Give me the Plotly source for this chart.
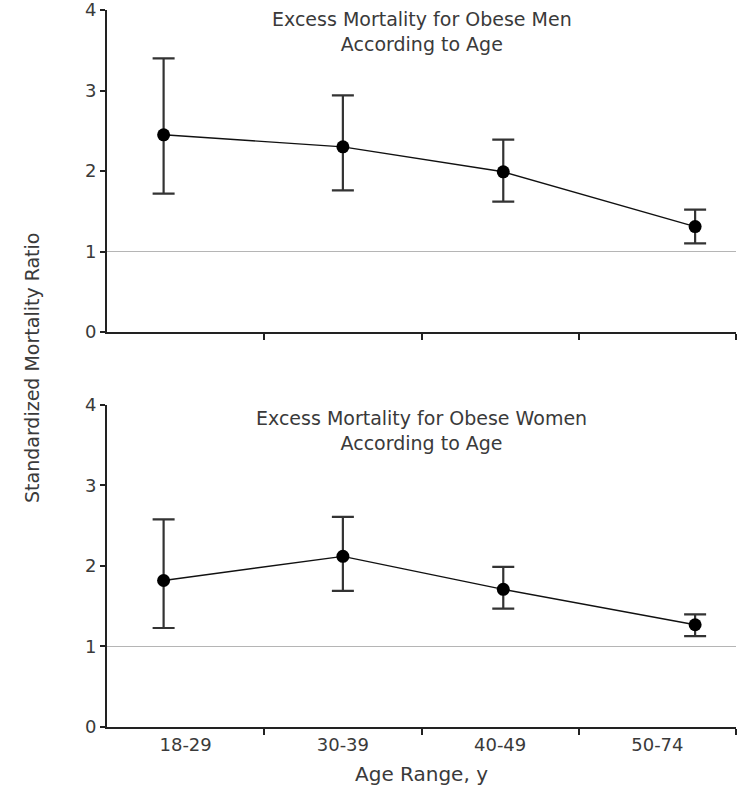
import plotly.graph_objects as go
from plotly.subplots import make_subplots

age_ranges = ["18-29", "30-39", "40-49", "50-74"]
point_x = [0.36, 1.50, 2.52, 3.74]  # position of each point along the age-range scale (bins 0-4)

men_smr = [2.45, 2.30, 1.99, 1.31]
men_upper = [3.40, 2.94, 2.39, 1.52]
men_lower = [1.72, 1.76, 1.62, 1.10]

women_smr = [1.82, 2.12, 1.71, 1.27]
women_upper = [2.58, 2.61, 1.99, 1.40]
women_lower = [1.23, 1.69, 1.47, 1.13]

titles = ["Excess Mortality for Obese Men<br>According to Age",
          "Excess Mortality for Obese Women<br>According to Age"]

FONT = "DejaVu Sans, Arial, sans-serif"
TXT = "#3a3a3a"

fig = make_subplots(rows=2, cols=1, vertical_spacing=0.1018)
fig.update_layout(yaxis=dict(domain=[0.5509, 1.0]), yaxis2=dict(domain=[0.0, 0.4491]))

for row, (smr, up, lo) in enumerate([(men_smr, men_upper, men_lower),
                                     (women_smr, women_upper, women_lower)], start=1):
    # reference line at SMR = 1
    fig.add_trace(go.Scatter(x=[0, 4], y=[1, 1], mode="lines",
                             line=dict(color="#b5b5b5", width=1.2),
                             hoverinfo="skip", showlegend=False), row=row, col=1)
    fig.add_trace(go.Scatter(
        x=point_x, y=smr, mode="lines+markers",
        line=dict(color="#111111", width=1.4),
        marker=dict(color="#000000", size=13),
        error_y=dict(type="data", symmetric=False,
                     array=[u - v for u, v in zip(up, smr)],
                     arrayminus=[v - l for v, l in zip(smr, lo)],
                     color="#333333", thickness=2.2, width=11),
        showlegend=False), row=row, col=1)

axis_common = dict(showline=True, linecolor="#222222", linewidth=2, showgrid=False,
                   zeroline=False, ticks="outside", ticklen=5, tickwidth=1.5,
                   automargin=False, ticklabeloverflow="allow",
                   tickcolor="#222222", tickfont=dict(family=FONT, size=18, color=TXT))

for r in (1, 2):
    fig.update_yaxes(range=[0, 4], tickvals=[0, 1, 2, 3, 4], row=r, col=1, **axis_common)
    xa = dict(axis_common)
    xa.update(ticks="", range=[0, 4], tickvals=[0.5, 1.5, 2.5, 3.5],
              ticktext=age_ranges if r == 2 else ["", "", "", ""],
              minor=dict(tickmode="array", tickvals=[1, 2, 3, 4], ticks="outside",
                         ticklen=6, tickwidth=1.5, tickcolor="#222222"))
    fig.update_xaxes(row=r, col=1, **xa)

fig.update_xaxes(title=dict(text="Age Range, y", font=dict(family=FONT, size=20, color=TXT),
                            standoff=13), row=2, col=1)

annots = [
    dict(text=titles[0], x=0.5, xref="x domain", y=1.0, yref="y domain",
         yanchor="top", showarrow=False, font=dict(family=FONT, size=19, color=TXT),
         yshift=4),
    dict(text=titles[1], x=0.5, xref="x2 domain", y=1.0, yref="y2 domain",
         yanchor="top", showarrow=False, font=dict(family=FONT, size=19, color=TXT),
         yshift=0),
    dict(text="Standardized Mortality Ratio", x=-0.12, xref="paper", xanchor="center",
         y=0.5, yref="paper", yanchor="middle", textangle=-90, showarrow=False,
         font=dict(family=FONT, size=19, color=TXT)),
]
fig.update_layout(annotations=annots)

fig.update_layout(width=743, height=793, margin=dict(l=107, r=7, t=10, b=66),
                  plot_bgcolor="white", paper_bgcolor="white", showlegend=False)

fig.write_html("out.html", config={"displayModeBar": False},
               post_script="document.body.style.margin='0px';document.body.style.overflow='hidden';")
